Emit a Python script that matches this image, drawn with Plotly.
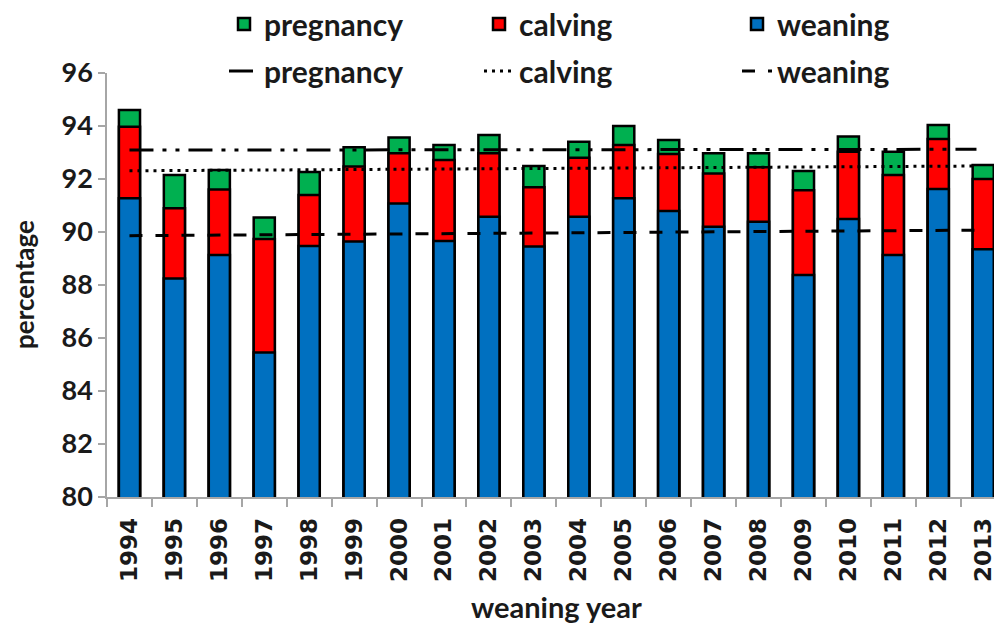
import plotly.graph_objects as go

years = list(range(1994, 2014))
year_labels = [str(y) for y in years]

pregnancy = [94.6, 92.15, 92.34, 90.55, 92.26, 93.2, 93.57, 93.28, 93.66, 92.49,
             93.41, 94.0, 93.47, 92.97, 92.97, 92.3, 93.6, 93.03, 94.04, 92.53]
calving = [93.97, 90.9, 91.6, 89.74, 91.4, 92.47, 92.97, 92.72, 92.97, 91.69,
           92.8, 93.28, 92.94, 92.21, 92.44, 91.58, 93.03, 92.15, 93.51, 92.0]
weaning = [91.27, 88.25, 89.13, 85.45, 89.47, 89.64, 91.08, 89.66, 90.58, 89.45,
           90.58, 91.27, 90.79, 90.2, 90.39, 88.38, 90.49, 89.13, 91.62, 89.35]

trend_years = [1994, 2012.85]
pregnancy_trend = [93.09, 93.12]
calving_trend = [92.31, 92.49]
weaning_trend = [89.86, 90.07]

GREEN = "#00B050"
RED = "#FF0000"
BLUE = "#0070C0"
FONT = "Lato"
TXT = "#1a1a1a"
W, H = 994, 623
L, R, T, B = 107, 0, 73, 126

fig = go.Figure()
bar_specs = [("pregnancy", pregnancy, GREEN, "legend2"),
             ("calving", calving, RED, "legend3"),
             ("weaning", weaning, BLUE, "legend4")]
for name, vals, col, lg in bar_specs:
    fig.add_trace(go.Bar(x=years, y=vals, name=name, width=0.47,
                         marker=dict(color=col, line=dict(color="black", width=2.5)),
                         legend=lg))

line_specs = [("pregnancy", pregnancy_trend, "24px,9px,4px,9px,4px,9px", "legend5"),
              ("calving", calving_trend, "3px,5px", "legend6"),
              ("weaning", weaning_trend, "13px,13px", "legend7")]
for name, vals, dash, lg in line_specs:
    fig.add_trace(go.Scatter(x=trend_years, y=vals, name=name, mode="lines",
                             line=dict(color="black", width=3, dash=dash),
                             legend=lg))

def leg(text_x_px, y_px):
    return dict(xref="container", yref="container",
                x=(text_x_px - 42) / W, y=1 - y_px / H,
                xanchor="left", yanchor="middle",
                font=dict(family=FONT, size=30, color=TXT, weight="bold"),
                bgcolor="rgba(0,0,0,0)")

plot_w = W - L - R
plot_h = H - T - B

fig.update_layout(
    width=W, height=H,
    margin=dict(l=L, r=R, t=T, b=B, autoexpand=False),
    paper_bgcolor="white", plot_bgcolor="white",
    barmode="overlay", showlegend=True,
    font=dict(family=FONT, color=TXT),
    legend2=leg(266, 24), legend3=leg(521, 24), legend4=leg(779, 24),
    legend5=leg(266, 71), legend6=leg(521, 71), legend7=leg(779, 71),
    xaxis=dict(range=[1993.5, 2013.24], tickmode="array", tickvals=years,
               ticktext=year_labels, tickangle=-90, ticks="",
               ticklabelstandoff=10, ticklabeloverflow="allow",
               tickfont=dict(family="DejaVu Sans", size=23, color=TXT, weight="bold"),
               showline=True, linecolor="#A6A6A6", linewidth=1.5,
               minor=dict(ticks="outside", tick0=1993.5, dtick=1, ticklen=8,
                          tickcolor="#A6A6A6", tickwidth=1.5),
               showgrid=False, zeroline=False, automargin=False),
    yaxis=dict(range=[80, 96], dtick=2, tick0=80, ticks="outside", ticklen=7,
               tickcolor="#A6A6A6", tickwidth=1.5,
               showline=True, linecolor="#A6A6A6", linewidth=1.5,
               showgrid=False, zeroline=False, automargin=False,
               tickfont=dict(family=FONT, size=27, color=TXT, weight="bold")),
    annotations=[
        dict(text="weaning year", xref="paper", yref="paper",
             x=(556 - L) / plot_w, y=-(606 - (H - B)) / plot_h,
             xanchor="center", yanchor="middle", showarrow=False,
             font=dict(family=FONT, size=29, color=TXT, weight="bold")),
        dict(text="percentage", xref="paper", yref="paper",
             x=-(L - 24) / plot_w, y=0.5, textangle=-90,
             xanchor="center", yanchor="middle", showarrow=False,
             font=dict(family=FONT, size=26, color=TXT, weight="bold")),
    ],
)

fig.write_html("out.html", config={"displayModeBar": False},
               post_script="document.body.style.margin='0';document.body.style.overflow='hidden';")
